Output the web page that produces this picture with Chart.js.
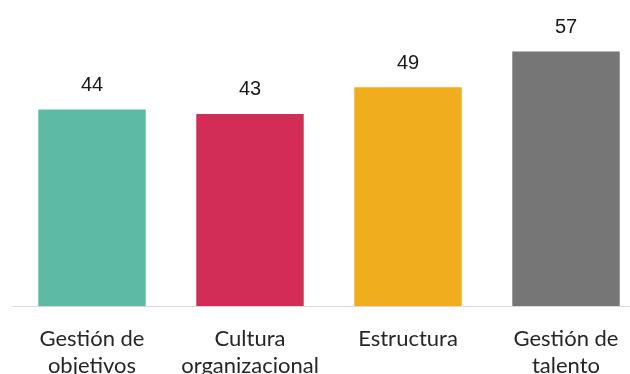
<!DOCTYPE html>
<html>
<head>
<meta charset="utf-8">
<script src="https://cdn.jsdelivr.net/npm/chart.js@4"></script>
<style>
  html, body { margin: 0; padding: 0; background: #fff; overflow: hidden; }
  #wrap { position: relative; width: 645px; height: 374px; }
</style>
</head>
<body>
<div id="wrap"><canvas id="myChart"></canvas></div>
<script>
var categories = [['Gestión de', 'objetivos'], ['Cultura', 'organizacional'], ['Estructura'], ['Gestión de', 'talento']];
var values = [44, 43, 49, 57];
var colors = ['#5dbba5', '#d22d56', '#f0ad1e', '#767676'];

// draws the number above each bar
var valueLabels = {
    id: 'valueLabels',
    afterDatasetsDraw: function(chart) {
        var ctx = chart.ctx;
        var meta = chart.getDatasetMeta(0);
        ctx.save();
        ctx.font = '20px "Liberation Sans", Arial, sans-serif';
        ctx.fillStyle = '#1a1a1a';
        ctx.textAlign = 'center';
        ctx.textBaseline = 'middle';
        meta.data.forEach(function(bar, i) {
            ctx.fillText(values[i], bar.x, bar.y - 24);
        });
        ctx.restore();
    }
};

var ctx = document.getElementById("myChart").getContext('2d');
var myChart = new Chart(ctx, {
    type: 'bar',
    data: {
        labels: categories,
        datasets: [{
            data: values,
            backgroundColor: colors,
            borderWidth: 0,
            barPercentage: 0.68,
            categoryPercentage: 1
        }]
    },
    options: {
        responsive: true,
        maintainAspectRatio: false,
        animation: false,
        layout: { padding: { top: 38, left: 13, right: 0, bottom: 0 } },
        plugins: {
            legend: { display: false },
            tooltip: { enabled: false }
        },
        scales: {
            y: {
                display: false,
                min: 0,
                max: 60
            },
            x: {
                grid: { display: false, drawTicks: false },
                border: { display: true, color: '#d9d9d9', width: 1 },
                ticks: {
                    color: '#262626',
                    padding: 20,
                    maxRotation: 0,
                    autoSkip: false,
                    font: { family: 'Lato, "Open Sans", sans-serif', size: 22, lineHeight: 1.2 }
                },
                afterFit: function(scale) { scale.height = 68; }
            }
        }
    },
    plugins: [valueLabels]
});
</script>
</body>
</html>
